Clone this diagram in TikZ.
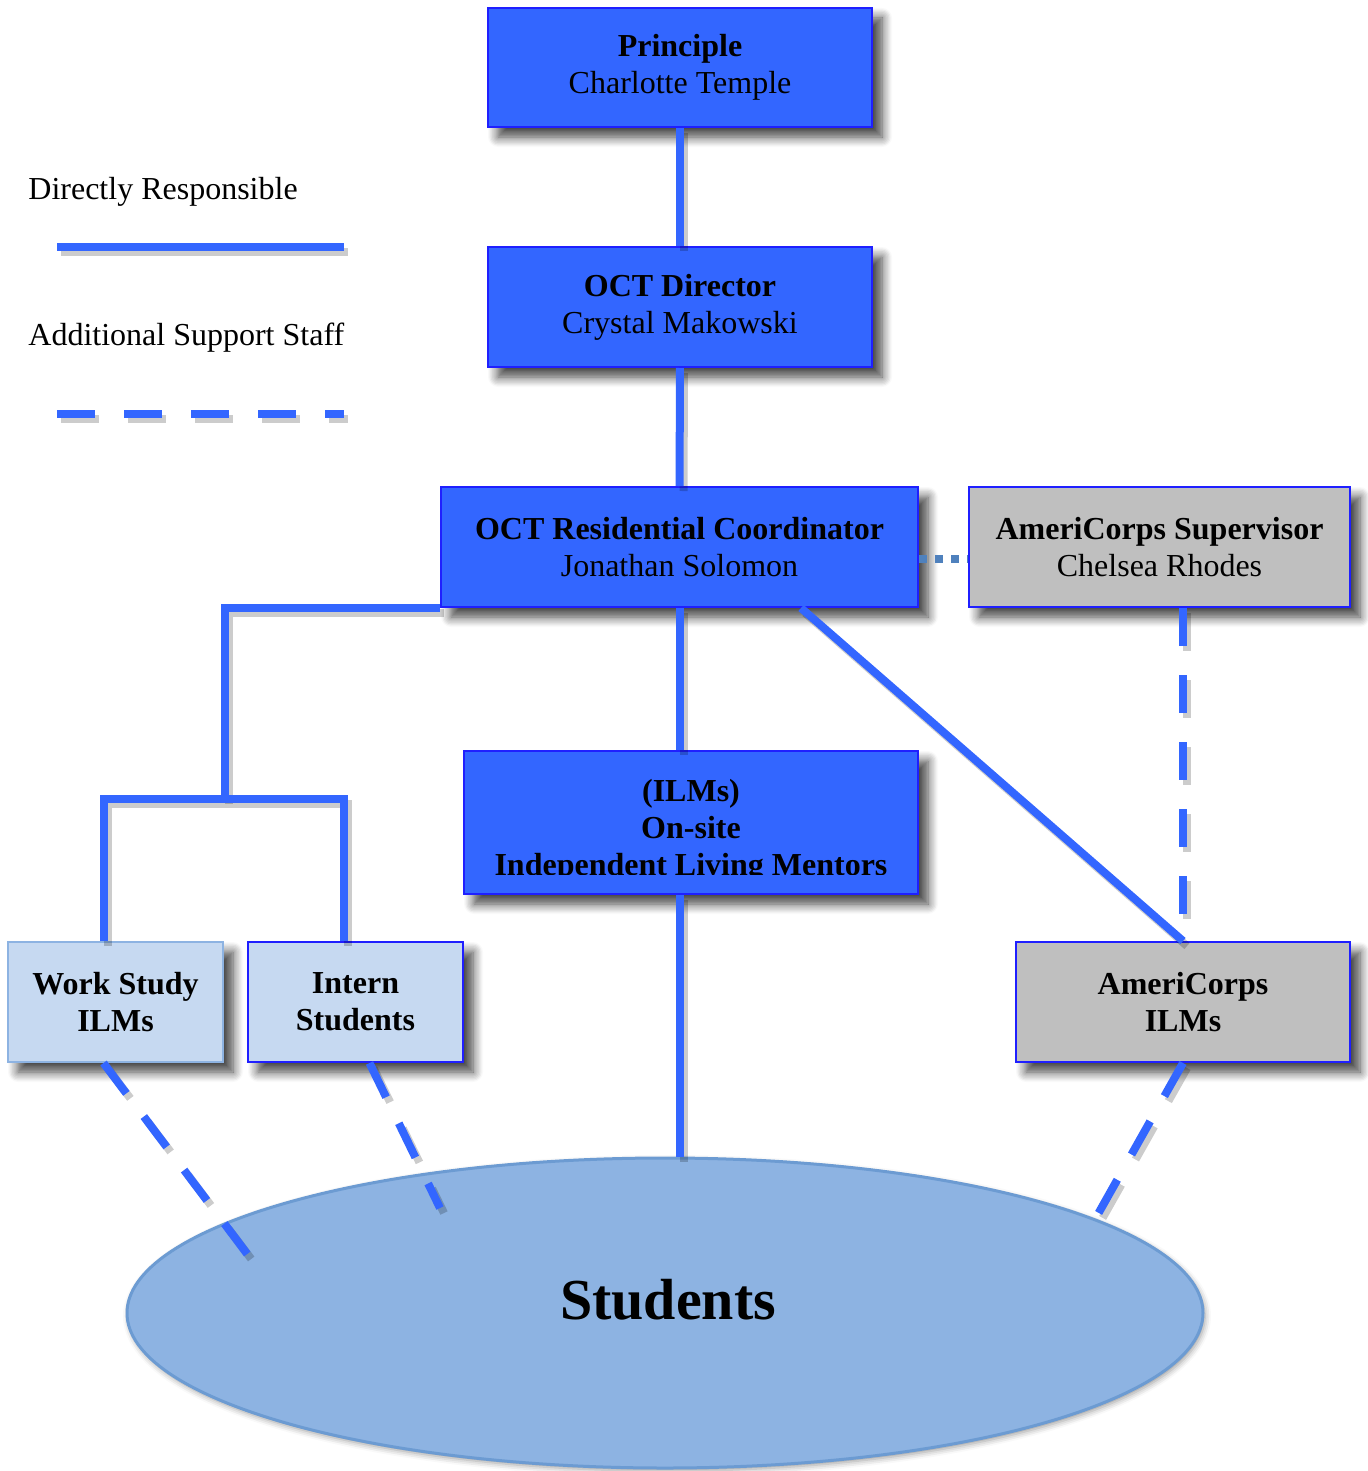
\documentclass[tikz,border=0pt]{standalone}
\usepackage{fontspec}
\setmainfont{Liberation Serif}
\usetikzlibrary{shapes.geometric,shadows.blur,calc}

\definecolor{ocblue}{HTML}{3366FF}
\definecolor{ocedge}{HTML}{1F1FFF}
\definecolor{ocpale}{HTML}{C6D9F1}
\definecolor{ocpaleedge}{HTML}{8DB3E2}
\definecolor{ocgray}{HTML}{BFBFBF}
\definecolor{ocsky}{HTML}{8DB3E2}
\definecolor{ocskyedge}{HTML}{6C9BD2}
\definecolor{ocsteel}{HTML}{4F81BD}

\def\chartboxh{60pt}
\def\chartline{4pt}

\begin{document}
\begin{tikzpicture}[x=0.5pt, y=-0.5pt,
            chartbox/.style={%
                rectangle, draw=ocedge, line width=1pt, inner sep=0pt,%
                minimum height=\chartboxh, align=center,%
                font=\fontsize{16pt}{18.5pt}\selectfont,%
                blur shadow={shadow xshift=5pt, shadow yshift=-5pt,%
                    shadow blur radius=5pt, shadow blur steps=8, shadow opacity=75}%
            },
            leadbox/.style={chartbox, fill=ocblue},
            helpbox/.style={chartbox, fill=ocpale},
            corpsbox/.style={chartbox, fill=ocgray},
            group/.style={%
                ellipse, draw=ocskyedge, line width=1.5pt, fill=ocsky,%
                minimum width=538pt, minimum height=155pt, inner sep=0pt,%
                blur shadow={shadow xshift=1pt, shadow yshift=-1.5pt,%
                    shadow blur radius=3pt}%
            },
            legendtext/.style={%
                anchor=base west, inner sep=0pt,%
                font=\fontsize{16pt}{18.5pt}\selectfont%
            },
            supportdash/.style={dash pattern=on 19pt off 14.5pt},
            link/.style={%
                line width=\chartline, draw=ocblue,%
                preaction={draw=black, opacity=0.2, line width=\chartline,%
                    transform canvas={shift={(2pt,-2.5pt)}}}%
            },
            support/.style={%
                line width=\chartline, draw=ocblue, supportdash,%
                preaction={draw=black, opacity=0.2, line width=\chartline,%
                    supportdash, transform canvas={shift={(2pt,-2.5pt)}}}%
            },
            liaison/.style={line width=\chartline, draw=ocsteel, dash pattern=on 4pt off 4pt}
        ]

        \useasboundingbox (0,0) rectangle (1367,1471);

        % Legend
        \node (legsolid) [legendtext] at (28,200) {Directly Responsible};
        \node (legdash) [legendtext] at (28,345) {Additional Support Staff};
        \coordinate (solidstart) at (57,247);
        \coordinate (solidend) at (344,247);
        \coordinate (dashstart) at (57,414);
        \coordinate (dashend) at (344,414);

        % Define nodes
        \node (principle) [leadbox, minimum width=192pt, minimum height=59.5pt] at (680,67.5) {%
            \textbf{Principle}\\Charlotte Temple
        };
        \node (director) [leadbox, minimum width=192pt] at (680,307) {%
            \textbf{OCT Director}\\Crystal Makowski
        };
        \node (coordinator) [leadbox, minimum width=238.5pt] at (679.5,547) {%
            \textbf{OCT Residential Coordinator}\\Jonathan Solomon
        };
        \node (supervisor) [corpsbox, minimum width=190.5pt] at (1159.5,547) {%
            \textbf{AmeriCorps Supervisor}\\Chelsea Rhodes
        };
        \node (ilms) [leadbox, minimum width=227pt, minimum height=71.5pt] at (691,822.5) {};
        \begin{scope}
            \clip (ilms.north west) rectangle ([yshift=10.5pt]ilms.south east);
            \node (ilmstext) [align=center, font=\fontsize{16pt}{18.5pt}\selectfont\bfseries] at (691,831) {%
                (ILMs)\\On-site\\Independent Living Mentors
            };
        \end{scope}
        \node (workstudy) [helpbox, draw=ocpaleedge, minimum width=107.5pt] at (115.5,1002) {%
            \textbf{Work Study}\\\textbf{ILMs}
        };
        \node (intern) [helpbox, minimum width=107.5pt] at (355.5,1002) {%
            \textbf{Intern}\\\textbf{Students}
        };
        \node (acilms) [corpsbox, minimum width=167pt] at (1183,1002) {%
            \textbf{AmeriCorps}\\\textbf{ILMs}
        };
        \node (students) [group] at (665,1313) {};
        \node (groupname) [font=\fontsize{29pt}{34pt}\selectfont\bfseries] at (668,1300) {Students};

        \coordinate (fork) at (225,799);
        \coordinate (forkleft) at (104,799);
        \coordinate (forkright) at (344,799);
        \coordinate (wsfoot) at (248,1255);
        \coordinate (infoot) at (440,1208);
        \coordinate (acfoot) at (1098,1214);

        % Connectors
        \draw [link] (solidstart) -- (solidend);
        \draw [support] (dashstart) -- (dashend);

        \draw [link] (principle) -- (director);
        \draw [link] (director) -- (coordinator);
        \draw [link] (coordinator.south) -- (coordinator.south |- ilms.north);
        \draw [link] (coordinator.south |- ilms.south) -- (coordinator.south |- students.north);
        \draw [link] (coordinator.south west) -| (fork);
        \draw [link] (forkleft |- workstudy.north) -- (forkleft) -- (forkright) -- (forkright |- intern.north);
        \draw [link] ([xshift=-59pt]coordinator.south east) -- (acilms.north);
        \draw [liaison] ([yshift=-6pt]coordinator.east) -- ([yshift=-6pt]supervisor.west);
        \draw [support] (acilms.north |- supervisor.south) -- (acilms.north);

        \draw [support] ([xshift=-6pt]workstudy.south) -- (wsfoot);
        \draw [support] ([xshift=7pt]intern.south) -- (infoot);
        \draw [support] (acilms.south) -- (acfoot);

\end{tikzpicture}
\end{document}
